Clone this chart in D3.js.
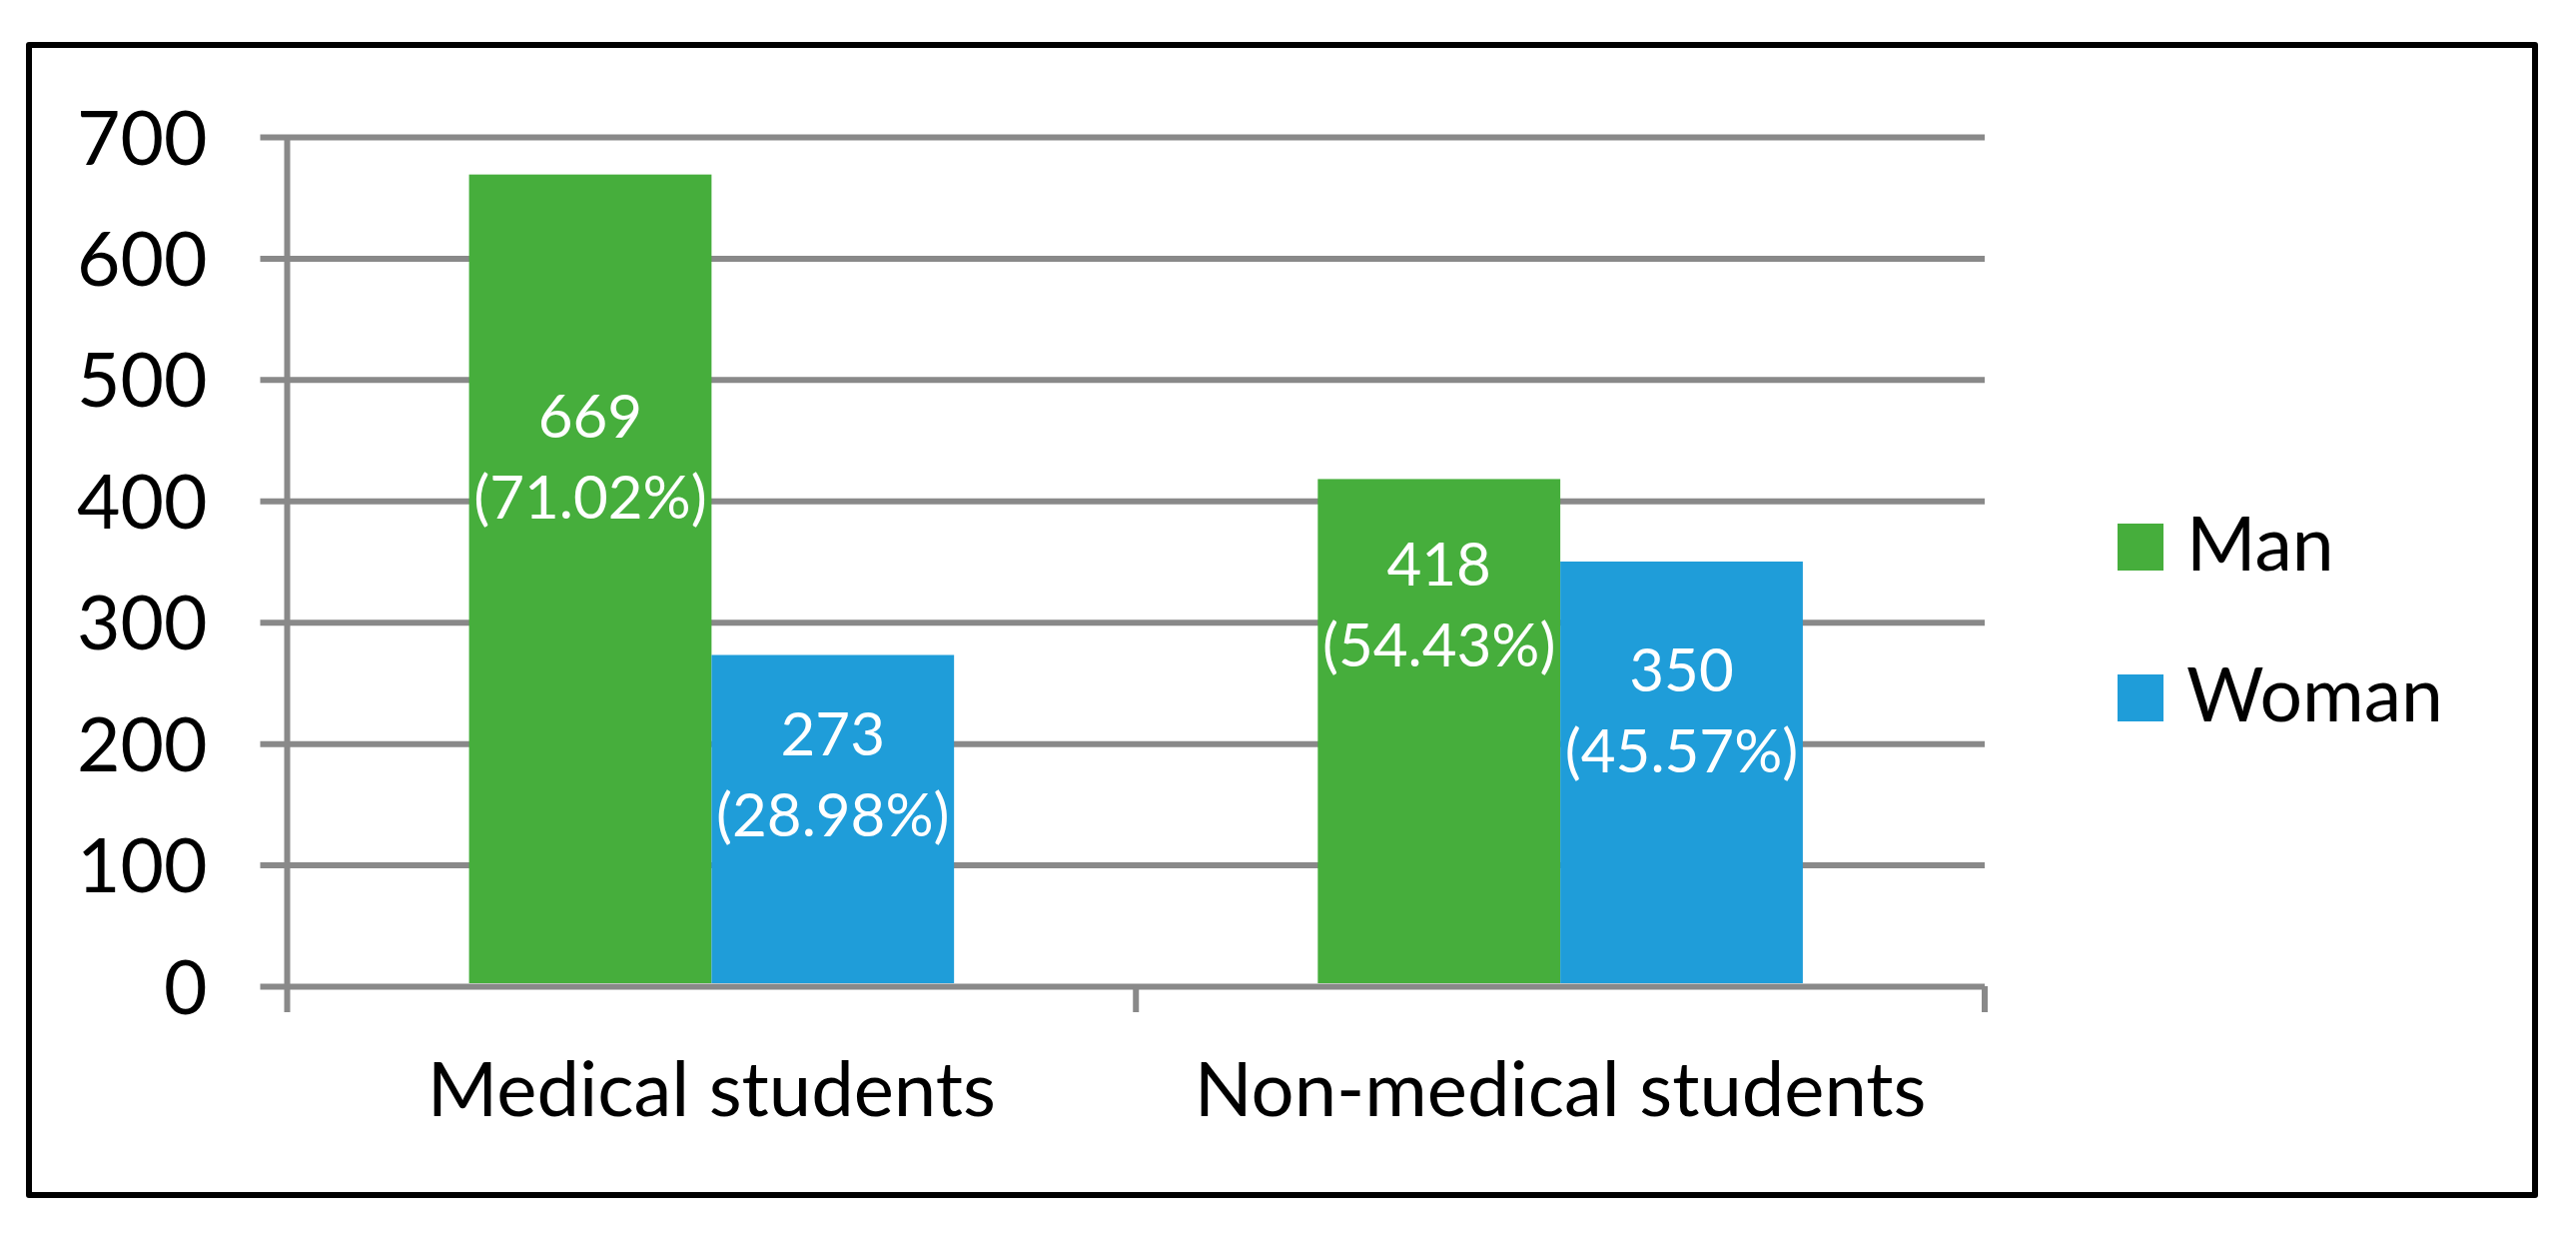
<!DOCTYPE html>
<html>
<head>
<meta charset="utf-8">
<script src="https://cdn.jsdelivr.net/npm/d3@7"></script>
<style>
	body { margin: 0; background: #fff; }
	svg { display: block; }
	text { font-family: Lato, "Open Sans", sans-serif; }
</style>
</head>
<body>
<svg></svg>
<script>
const categories = ["Medical students", "Non-medical students"];
const series = ["Man", "Woman"];
const manValues = [669, 418];
const womanValues = [273, 350];
const yTicks = [0, 100, 200, 300, 400, 500, 600, 700];
// where the two-line value labels sit inside each bar (value units)
const manLabelAt = [419, 297];
const womanLabelAt = [157, 210];

const colors = { Man: "#46ae3c", Woman: "#1f9dd9" };
const gridColor = "#898989";

const W = 2579, H = 1244;
const svg = d3.select("svg").attr("width", W).attr("height", H);

// outer frame
svg.append("rect")
	.attr("x", 29).attr("y", 45)
	.attr("width", 2509).attr("height", 1151)
	.attr("fill", "none")
	.attr("stroke", "#000")
	.attr("stroke-width", 6)
	.attr("stroke-linejoin", "round");

const plot = { left: 287.5, right: 1987, top: 137, bottom: 987 };

const x = d3.scaleBand().domain(categories).range([plot.left, plot.right]);
const gap = 1.5; // Excel gap width 150%
const barW = x.bandwidth() / (series.length + gap);
const x1 = d3.scaleBand()
	.domain(series)
	.range([barW * gap / 2, x.bandwidth() - barW * gap / 2]);

const y = d3.scaleLinear().domain([0, 700]).range([plot.bottom, plot.top]);

// gridlines + y labels: axis drawn from the right edge with long ticks
const yAxis = svg.append("g")
	.attr("transform", `translate(${plot.right},0)`)
	.call(d3.axisLeft(y)
		.tickValues(yTicks)
		.tickSize(plot.right - plot.left + 27)
		.tickPadding(53));
yAxis.select(".domain").remove();
yAxis.selectAll(".tick line").attr("stroke", gridColor).attr("stroke-width", 6);
yAxis.selectAll(".tick text")
	.attr("fill", "#000")
	.style("font-size", "75px")
	.attr("dy", "0.36em");

// y axis line
svg.append("line")
	.attr("x1", plot.left).attr("x2", plot.left)
	.attr("y1", y(700)).attr("y2", y(0) + 26)
	.attr("stroke", gridColor).attr("stroke-width", 6);

// category boundary ticks
const bounds = categories.map((c) => x(c)).concat([plot.right]);
svg.selectAll("line.xtick")
	.data(bounds.slice(1))
	.enter()
	.append("line")
	.attr("class", "xtick")
	.attr("x1", (d) => d).attr("x2", (d) => d)
	.attr("y1", y(0)).attr("y2", y(0) + 26)
	.attr("stroke", gridColor).attr("stroke-width", 6);

// category labels
svg.selectAll("text.cat")
	.data(categories)
	.enter()
	.append("text")
	.attr("class", "cat")
	.attr("x", (d) => x(d) + x.bandwidth() / 2)
	.attr("y", 1117)
	.attr("text-anchor", "middle")
	.style("font-size", "76px")
	.text((d) => d);

// bars
const rows = categories.map((c, i) => ({
	cat: c,
	total: manValues[i] + womanValues[i],
	bars: [
		{ key: "Man", value: manValues[i], labelAt: manLabelAt[i] },
		{ key: "Woman", value: womanValues[i], labelAt: womanLabelAt[i] },
	],
}));

const pct = d3.format(".2%");

const groups = svg.selectAll("g.cat")
	.data(rows)
	.enter()
	.append("g")
	.attr("class", "cat")
	.attr("transform", (d) => `translate(${x(d.cat)},0)`);

groups.selectAll("rect")
	.data((d) => d.bars)
	.enter()
	.append("rect")
	.attr("x", (d) => x1(d.key))
	.attr("width", x1.bandwidth())
	.attr("y", (d) => y(d.value))
	.attr("height", (d) => y(0) - y(d.value) - 3)
	.attr("fill", (d) => colors[d.key]);

groups.each(function (row) {
	const lab = d3.select(this).selectAll("text.val")
		.data(row.bars)
		.enter()
		.append("text")
		.attr("class", "val")
		.attr("text-anchor", "middle")
		.attr("fill", "#fff")
		.style("font-size", "60px");
	lab.append("tspan")
		.attr("x", (d) => x1(d.key) + x1.bandwidth() / 2)
		.attr("y", (d) => y(d.labelAt) - 40)
		.text((d) => d.value);
	lab.append("tspan")
		.attr("x", (d) => x1(d.key) + x1.bandwidth() / 2)
		.attr("y", (d) => y(d.labelAt) + 41)
		.text((d) => "(" + pct(d.value / row.total) + ")");
});

// legend
const legend = svg.selectAll("g.legend")
	.data(series)
	.enter()
	.append("g")
	.attr("class", "legend")
	.attr("transform", (d, i) => `translate(2120,${524 + i * 151})`);
legend.append("rect")
	.attr("width", 46).attr("height", 47)
	.attr("fill", (d) => colors[d]);
legend.append("text")
	.attr("x", 69).attr("y", 47)
	.style("font-size", "75px")
	.text((d) => d);
</script>
</body>
</html>
